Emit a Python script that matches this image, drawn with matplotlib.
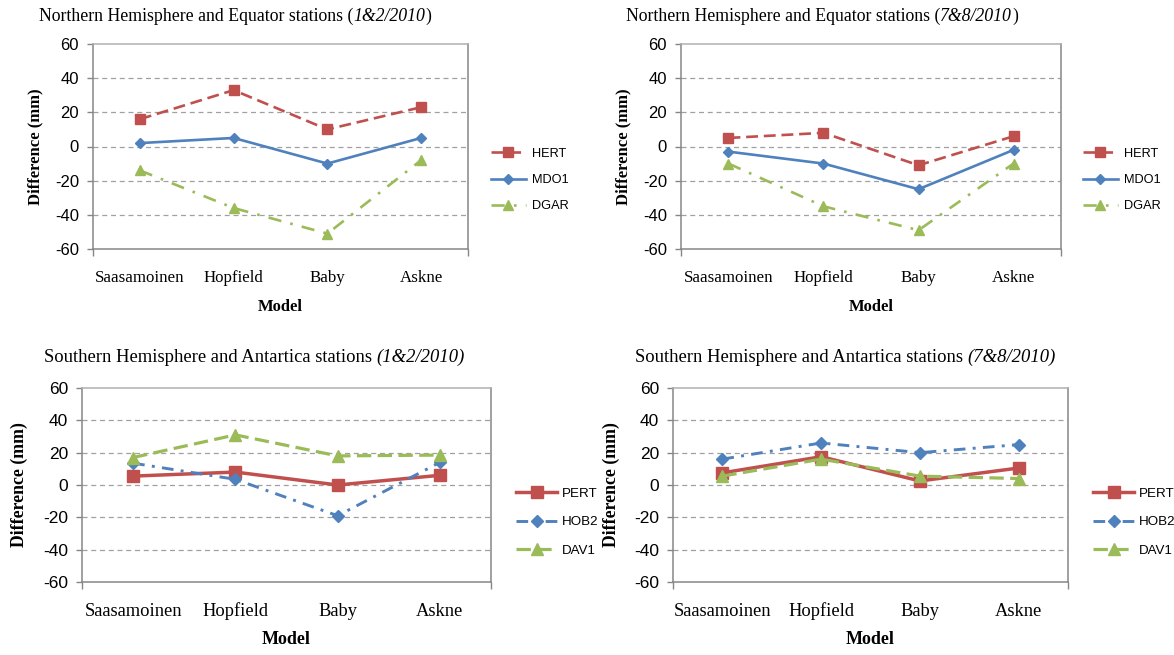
import numpy as np
import matplotlib
matplotlib.use("Agg")
import matplotlib.pyplot as plt

models = ["Saasamoinen", "Hopfield", "Baby", "Askne"]

# Northern Hemisphere and Equator stations
hert_12 = [16, 33, 10, 23]
mdo1_12 = [2, 5, -10, 5]
dgar_12 = [-14, -36, -51, -8]
hert_78 = [5, 8, -11, 6]
mdo1_78 = [-3, -10, -25, -2]
dgar_78 = [-10, -35, -49, -10]

# Southern Hemisphere and Antartica stations
pert_12 = [5.5, 8, 0, 6]
hob2_12 = [13.5, 3.5, -19, 14]
dav1_12 = [17, 31, 18, 18.5]
pert_78 = [7.5, 17.5, 2.5, 10.5]
hob2_78 = [16, 26, 20, 25]
dav1_78 = [5.5, 16, 5.5, 4]

yticks = [-60, -40, -20, 0, 20, 40, 60]

RED = "#C0504D"
BLUE = "#4F81BD"
GREEN = "#9BBB59"
SERIF = "Liberation Serif"
SANS = "Liberation Sans"

W, H = 1174, 655
fig = plt.figure(figsize=(W / 100, H / 100), dpi=100)
renderer = fig.canvas.get_renderer()


def fx(px):
    return px / W


def fy(py):
    return 1 - py / H


def draw_title(x, y, parts, size):
    # parts: list of (text, italic)
    for txt, ital in parts:
        t = fig.text(fx(x), fy(y), txt, family=SERIF, size=size,
                     style="italic" if ital else "normal", va="baseline", ha="left")
        bb = t.get_window_extent(renderer)
        x += bb.width + (0.5 if ital else 0)


def panel(box, series, title_parts, ylab_x, leg, big):
    x0, y0, x1, y1 = box
    ax = fig.add_axes([fx(x0), fy(y1), fx(x1 - x0), (y1 - y0) / H])
    xs = np.arange(len(models))
    for vals, name, col, ls, mk, lw, ms in series:
        ax.plot(xs, vals, color=col, dashes=ls, marker=mk, lw=lw, ms=ms,
                label=name, markeredgecolor=col, markerfacecolor=col)
    ax.set_xlim(-0.5, 3.5)
    ax.set_ylim(-60, 60)
    ax.set_yticks(yticks)
    ax.set_yticklabels([str(v) for v in yticks], family=SANS,
                       size=12.5 if big else 12)
    ax.set_xticks(xs)
    ax.set_xticklabels(models, family=SERIF, size=13.3 if big else 12.2)
    for lab in ax.get_xticklabels():
        lab.set_verticalalignment("baseline")
    ax.set_xticks([-0.5, 3.5], minor=True)
    ax.tick_params(axis="x", which="major", length=0, pad=24.5 if big else 24)
    ax.tick_params(axis="x", which="minor", length=5, color="#868686", width=1)
    ax.tick_params(axis="y", length=4, color="#868686", width=1, pad=6)
    for v in yticks[1:-1]:
        ax.axhline(v, color="#A0A0A0", lw=0.9, dashes=(4, 3), zorder=0)
    for s in ax.spines.values():
        s.set_color("#868686")
        s.set_linewidth(1.1)
    ax.spines["top"].set_color("#B0B0B0")
    cx = (x0 + x1) / 2
    fig.text(fx(cx), fy(y1 + 62), "Model", family=SERIF, weight="bold",
             size=13 if big else 12, ha="center", va="baseline")
    fig.text(fx(ylab_x), fy((y0 + y1) / 2), "Difference (mm)", family=SERIF,
             weight="bold", size=12.8 if big else 12,
             rotation=90, ha="center", va="center")
    lx, ly, hl, hp, fs, lsp = leg
    ax.legend(loc="center left", bbox_to_anchor=(fx(lx), fy(ly)),
              bbox_transform=fig.transFigure, frameon=False, borderpad=0,
              borderaxespad=0, handlelength=hl, handletextpad=hp,
              labelspacing=lsp, prop={"family": SANS, "size": fs})
    draw_title(*title_parts)
    return ax


north_12 = [
    (hert_12, "HERT", RED, (4.5, 2.2), "s", 1.9, 7),
    (mdo1_12, "MDO1", BLUE, (), "D", 1.9, 5.5),
    (dgar_12, "DGAR", GREEN, (5, 3.5, 1, 3.5), "^", 1.9, 7.5),
]
north_78 = [
    (hert_78, "HERT", RED, (4.5, 2.2), "s", 1.9, 7),
    (mdo1_78, "MDO1", BLUE, (), "D", 1.9, 5.5),
    (dgar_78, "DGAR", GREEN, (5, 3.5, 1, 3.5), "^", 1.9, 7.5),
]
south_12 = [
    (pert_12, "PERT", RED, (), "s", 2.5, 8),
    (hob2_12, "HOB2", BLUE, (4, 2.5, 1, 2.5), "D", 2.1, 6),
    (dav1_12, "DAV1", GREEN, (4.5, 2), "^", 2.3, 8),
]
south_78 = [
    (pert_78, "PERT", RED, (), "s", 2.5, 8),
    (hob2_78, "HOB2", BLUE, (4, 2.5, 1, 2.5), "D", 2.1, 6),
    (dav1_78, "DAV1", GREEN, (4.5, 2), "^", 2.3, 8),
]

panel((93, 44, 468, 249), north_12,
      (39, 21, [("Northern Hemisphere and Equator stations (", False),
                ("1&2/2010", True), (")", False)], 12.8),
      35, (491, 180, 2.7, 0.5, 9.2, 1.1), False)
panel((681, 44, 1061, 249), north_78,
      (626, 21, [("Northern Hemisphere and Equator stations (", False),
                 ("7&8/2010", True), (")", False)], 12.8),
      623, (1083, 180, 2.7, 0.5, 9.2, 1.1), False)
panel((82, 388, 491, 582), south_12,
      (44, 362, [("Southern Hemisphere and Antartica stations ", False),
                 ("(1&2/2010)", True)], 13.4),
      19, (516, 522, 3.1, 0.35, 9.6, 1.2), True)
panel((673, 388, 1068, 582), south_78,
      (635, 362, [("Southern Hemisphere and Antartica stations ", False),
                  ("(7&8/2010)", True)], 13.4),
      611, (1093, 522, 3.1, 0.35, 9.6, 1.2), True)

fig.savefig("out.png", dpi=100)
